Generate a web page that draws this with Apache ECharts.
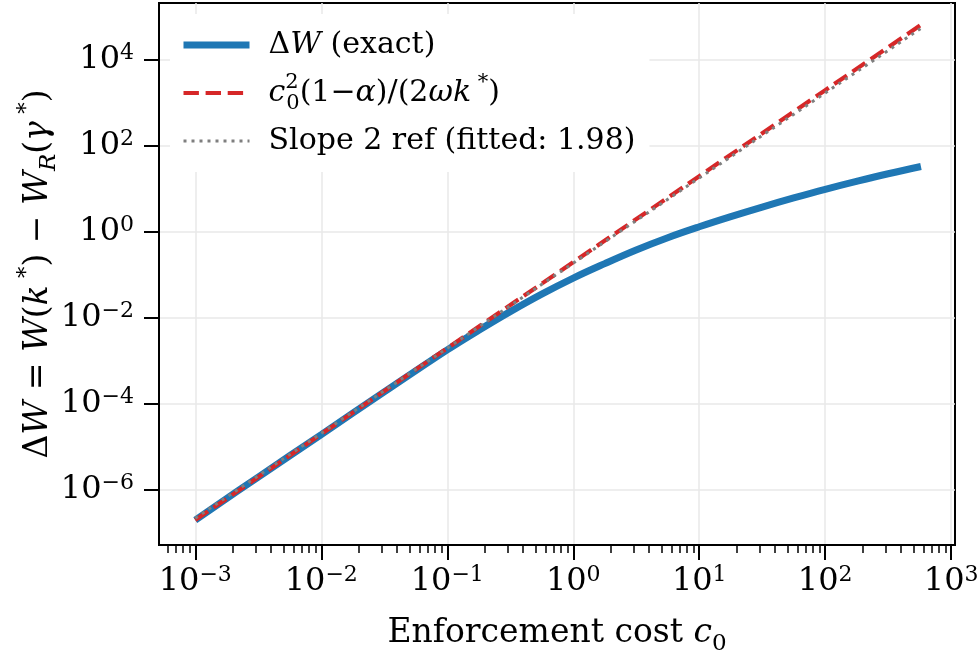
<!DOCTYPE html>
<html>
<head>
<meta charset="utf-8">
<script src="https://cdn.jsdelivr.net/npm/echarts@6/dist/echarts.min.js"></script>
<style>
html, body { margin: 0; padding: 0; background: #fff; }
#main { width: 979px; height: 656px; }
</style>
</head>
<body>
<div id="main"></div>
<script>
// exact welfare gap
var c0Exact = [0.001, 0.00316, 0.01, 0.0316, 0.1, 0.178, 0.316, 0.562, 1.0, 1.78, 3.16, 5.62, 10, 17.8, 31.6, 56.2, 100, 178, 316, 575];
var dwExact = [2.0e-7, 2.0e-6, 1.95e-5, 1.91e-4, 1.82e-3, 5.21e-3, 1.41e-2, 3.6e-2, 8.51e-2, 0.185, 0.384, 0.741, 1.33, 2.29, 3.82, 6.22, 9.89, 15.2, 22.8, 33.6];
// small-c0 approximation c0^2(1-a)/(2wk*)
var c0Approx = [0.001, 0.01, 0.1, 1, 10, 100, 575];
var dwApprox = [2.0e-7, 2.0e-5, 2.0e-3, 0.2, 20, 2000, 66000];
// fitted slope reference
var c0Ref = [0.001, 1, 575];
var dwRef = [2.2e-7, 0.19, 5.5e4];

var xTicks = [1e-3, 1e-2, 1e-1, 1, 10, 100, 1000];
var yTicks = [1e-6, 1e-4, 1e-2, 1, 100, 1e4];
var minorMult = [2, 3, 4, 5, 6, 7, 8, 9];
var minorDecades = [1e-4, 1e-3, 1e-2, 1e-1, 1, 10, 100];

var FONT = 'DejaVu Serif';

function toPairs(xs, ys) {
    var out = [];
    for (var i = 0; i < xs.length; i++) {
        out.push([xs[i], ys[i]]);
    }
    return out;
}

function minorTicks() {
    var out = [];
    for (var d = 0; d < minorDecades.length; d++) {
        for (var m = 0; m < minorMult.length; m++) {
            out.push(minorMult[m] * minorDecades[d]);
        }
    }
    return out;
}

/* 10^n as rich text */
function powLabel(v) {
    var e = Math.round(Math.log(v) / Math.LN10);
    var s = e < 0 ? '\u2212' + (-e) : '' + e;
    return '{b|10}{s|' + s + '}';
}

var tickRich = {
    b: { fontFamily: FONT, fontSize: 32, lineHeight: 36, color: '#000' },
    s: { fontFamily: FONT, fontSize: 22, lineHeight: 22, verticalAlign: 'top', color: '#000' }
};

function mathRich(size) {
    var small = Math.round(size * 0.7);
    return {
        n: { fontFamily: FONT, fontSize: size, lineHeight: size + 12, color: '#000' },
        i: { fontFamily: FONT, fontStyle: 'italic', fontSize: size, lineHeight: size + 12, color: '#000' },
        sup: { fontFamily: FONT, fontSize: small, lineHeight: small + 4, verticalAlign: 'top', color: '#000' },
        sup0: { fontFamily: FONT, fontSize: small, lineHeight: small + 4, verticalAlign: 'top', width: 1, color: '#000' },
        sub: { fontFamily: FONT, fontSize: small, lineHeight: small + 4, verticalAlign: 'bottom', color: '#000' },
        subi: { fontFamily: FONT, fontStyle: 'italic', fontSize: small, lineHeight: small + 4, verticalAlign: 'bottom', color: '#000' }
    };
}

var legendText = {
    exact: '{n|\u0394}{i|W}{n| (exact)}',
    approx: '{i|c}{sup0|2}{sub|0}{n|(1\u2212}{i|\u03b1}{n|)/(2}{i|\u03c9k}{sup| *}{n|)}',
    ref: '{n|Slope 2 ref (fitted: 1.98)}'
};

var chart = echarts.init(document.getElementById('main'));

var xMin = Math.pow(10, -3.288), xMax = Math.pow(10, 3.03);
var yMin = Math.pow(10, -7.28), yMax = Math.pow(10, 5.33);

var option = {
    backgroundColor: '#fff',
    animation: false,
    grid: {
        left: 159, right: 24, top: 3, bottom: 111,
        outerBoundsMode: 'none',
        containLabel: false,
        show: true, borderColor: '#000', borderWidth: 2, backgroundColor: 'transparent'
    },
    legend: {
        orient: 'vertical',
        left: 170, top: 14,
        padding: [16, 14, 16, 10],
        backgroundColor: '#fff',
        itemWidth: 66, itemHeight: 20, itemGap: 12,
        selectedMode: false,
        itemStyle: { opacity: 0 },
        textStyle: { padding: [0, 0, 0, 14], rich: mathRich(30) },
        formatter: function(name) { return legendText[name]; },
        data: [
            { name: 'exact', lineStyle: { width: 7, opacity: 1 } },
            { name: 'approx', lineStyle: { width: 4.2, opacity: 1 } },
            { name: 'ref', lineStyle: { width: 3, opacity: 1 } }
        ]
    },
    xAxis: [{
        type: 'log', logBase: 10, min: xMin, max: xMax,
        name: '{n|Enforcement cost }{i|c}{sub|0}',
        nameLocation: 'middle', nameGap: 66,
        nameTextStyle: { rich: mathRich(33) },
        axisLine: { show: true, lineStyle: { color: '#000', width: 2 } },
        axisTick: { show: true, inside: false, length: 15, lineStyle: { color: '#000', width: 2 }, customValues: xTicks },
        axisLabel: { show: true, margin: 19, formatter: powLabel, rich: tickRich, customValues: xTicks },
        splitLine: { show: true, lineStyle: { color: '#e8e8e8', width: 1.5 } },
        minorTick: { show: false }
    }, {
        type: 'log', logBase: 10, min: xMin, max: xMax,
        position: 'bottom',
        axisLine: { show: false },
        axisTick: { show: true, inside: false, length: 8, lineStyle: { color: '#000', width: 1.5 }, customValues: minorTicks() },
        axisLabel: { show: false },
        splitLine: { show: false }
    }],
    yAxis: [{
        type: 'log', logBase: 10, min: yMin, max: yMax,
        name: '{n|\u0394}{i|W}{n| = }{i|W}{n|(}{i|k}{sup| *}{n|) \u2212 }{i|W}{subi|R}{n|(}{i|\u03b3}{sup| *}{n|)}',
        nameLocation: 'middle', nameRotate: 90, nameGap: 98,
        nameMoveOverlap: false,
        nameTextStyle: { rich: mathRich(33) },
        axisLine: { show: true, lineStyle: { color: '#000', width: 2 } },
        axisTick: { show: true, inside: false, length: 15, lineStyle: { color: '#000', width: 2 }, customValues: yTicks },
        axisLabel: { show: true, margin: 25, formatter: powLabel, rich: tickRich, customValues: yTicks },
        splitLine: { show: true, lineStyle: { color: '#e8e8e8', width: 1.5 } },
        minorTick: { show: false }
    }],
    series: [{
        name: 'exact',
        type: 'line',
        data: toPairs(c0Exact, dwExact),
        showSymbol: false, symbol: 'none',
        smooth: 0.4,
        lineStyle: { color: '#1f77b4', width: 7 },
        itemStyle: { color: '#1f77b4' },
        z: 2
    }, {
        name: 'approx',
        type: 'line',
        data: toPairs(c0Approx, dwApprox),
        showSymbol: false, symbol: 'none',
        lineStyle: { color: '#d62728', width: 4.2, type: [15.4, 6.7] },
        itemStyle: { color: '#d62728' },
        z: 3
    }, {
        name: 'ref',
        type: 'line',
        data: toPairs(c0Ref, dwRef),
        showSymbol: false, symbol: 'none',
        lineStyle: { color: '#7f7f7f', width: 3, type: [3, 5] },
        itemStyle: { color: '#7f7f7f' },
        z: 4
    }]
};

chart.setOption(option);
</script>
</body>
</html>
